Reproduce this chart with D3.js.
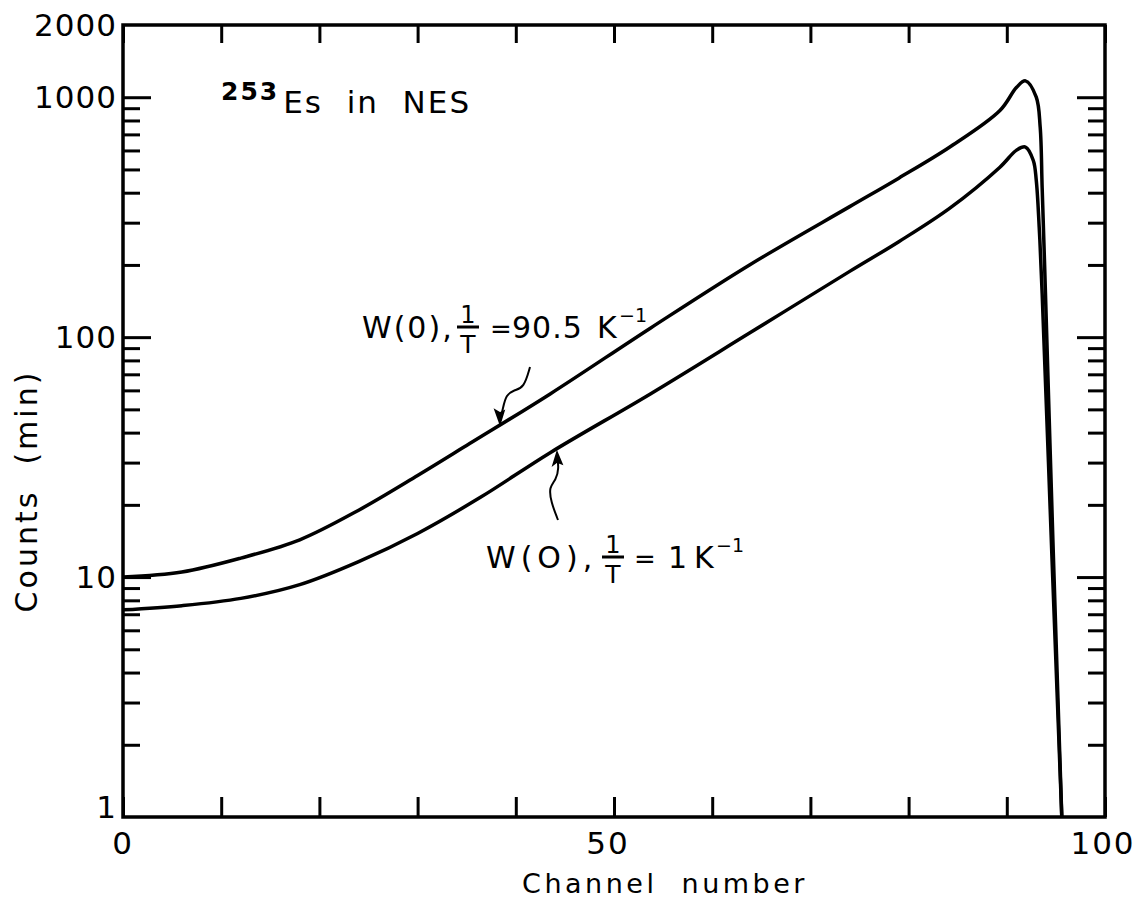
<!doctype html>
<html>

<head>
    <title>253Es in NES - counts vs channel</title>
    <script src="https://d3js.org/d3.v7.min.js"></script>
    <style>
        body {
            margin: 0;
            background: #fff;
        }

        svg text {
            font-family: 'DejaVu Sans', sans-serif;
            fill: #000;
        }
    </style>
</head>

<body>
    <div id="my_dataviz"></div>

    <script>
        // channel numbers and counts
        var upperChannel = [0, 6, 12, 18, 24, 30, 35.3, 43.5, 53.7, 63.8, 74, 79, 84.2, 89.3, 91, 91.9, 93, 93.4, 93.6, 93.85, 94.7, 95.6];
        var upperCounts = [10, 10.5, 12, 14.3, 19, 26.5, 36, 58, 109, 200, 350, 460, 620, 880, 1100, 1170, 1000, 750, 420, 200, 14, 1];

        var lowerChannel = [0, 6, 12, 18, 24, 30, 36.4, 43.5, 53.7, 63.8, 74, 79, 84.2, 89.3, 91, 91.9, 92.7, 93, 93.3, 93.6, 94.6, 95.6];
        var lowerCounts = [7.3, 7.6, 8.15, 9.3, 11.6, 15.2, 21.5, 33, 58, 104, 188, 250, 345, 511, 602, 620, 545, 451, 287, 152, 12, 1];

        // ticks
        var xTicks = [0, 10, 20, 30, 40, 50, 60, 70, 80, 90, 100];
        var xLabels = [0, 50, 100];
        var yMajor = [10, 100, 1000];
        var yMinor = [2, 3, 4, 5, 6, 7, 8, 9, 20, 30, 40, 50, 60, 70, 80, 90, 200, 300, 400, 500, 600, 700, 800, 900];
        var yLabels = [1, 10, 100, 1000, 2000];

        var width = 1143,
            height = 907;

        var svg = d3.select("#my_dataviz")
            .append("svg")
            .attr("width", width)
            .attr("height", height);

        var x = d3.scaleLinear()
            .domain([0, 100])
            .range([123, 1105]);

        var y = d3.scaleLog()
            .domain([1, 2000])
            .range([817, 25]);

        // frame
        svg.append("rect")
            .attr("x", x(0))
            .attr("y", y(2000))
            .attr("width", x(100) - x(0))
            .attr("height", y(1) - y(2000))
            .attr("fill", "none")
            .attr("stroke", "#000")
            .attr("stroke-width", 3.5);

        // x ticks, bottom and top, pointing inward
        function styleTicks(g) {
            g.select(".domain").remove();
            g.selectAll(".tick line").attr("stroke", "#000").attr("stroke-width", 3);
            g.selectAll(".tick text").remove();
        }

        svg.append("g")
            .attr("transform", "translate(0," + y(1) + ")")
            .call(d3.axisBottom(x).tickValues(xTicks).tickSizeInner(-20).tickSizeOuter(0))
            .call(styleTicks);

        svg.append("g")
            .attr("transform", "translate(0," + y(2000) + ")")
            .call(d3.axisTop(x).tickValues(xTicks).tickSizeInner(-18).tickSizeOuter(0))
            .call(styleTicks);

        // y ticks, left and right
        svg.append("g")
            .attr("transform", "translate(" + x(0) + ",0)")
            .call(d3.axisLeft(y).tickValues(yMajor).tickSizeInner(-28).tickSizeOuter(0))
            .call(styleTicks);
        svg.append("g")
            .attr("transform", "translate(" + x(0) + ",0)")
            .call(d3.axisLeft(y).tickValues(yMinor).tickSizeInner(-17).tickSizeOuter(0))
            .call(styleTicks);
        svg.append("g")
            .attr("transform", "translate(" + x(100) + ",0)")
            .call(d3.axisRight(y).tickValues(yMajor).tickSizeInner(-28).tickSizeOuter(0))
            .call(styleTicks);
        svg.append("g")
            .attr("transform", "translate(" + x(100) + ",0)")
            .call(d3.axisRight(y).tickValues(yMinor).tickSizeInner(-17).tickSizeOuter(0))
            .call(styleTicks);

        // tick labels
        svg.selectAll(".xlab")
            .data(xLabels)
            .enter()
            .append("text")
            .attr("x", function (d) { return x(d) - (d == 50 ? 6 : d == 100 ? 2 : 0); })
            .attr("y", y(1) + 37)
            .attr("text-anchor", "middle")
            .style("font-size", "31px")
            .style("letter-spacing", "2px")
            .text(function (d) { return d; });

        svg.selectAll(".ylab")
            .data(yLabels)
            .enter()
            .append("text")
            .attr("x", 117)
            .attr("y", function (d) { return y(d) + (d == 1 ? 1 : 11); })
            .attr("text-anchor", "end")
            .style("font-size", "31px")
            .style("letter-spacing", "1px")
            .text(function (d) { return d; });

        // axis titles
        svg.append("text")
            .attr("x", 665)
            .attr("y", 893)
            .attr("text-anchor", "middle")
            .style("font-size", "27px")
            .style("letter-spacing", "3.5px")
            .style("white-space", "pre")
            .text("Channel  number");

        svg.append("text")
            .attr("transform", "translate(37,491) rotate(-90)")
            .attr("text-anchor", "middle")
            .style("font-size", "30px")
            .style("letter-spacing", "3px")
            .style("white-space", "pre")
            .text("Counts  (min)");

        // curves
        var line = d3.line()
            .x(function (d) { return x(d[0]); })
            .y(function (d) { return y(d[1]); })
            .curve(d3.curveCatmullRom.alpha(0.5));

        var upper = upperChannel.map(function (c, i) { return [c, upperCounts[i]]; });
        var lower = lowerChannel.map(function (c, i) { return [c, lowerCounts[i]]; });

        [upper, lower].forEach(function (pts) {
            svg.append("path")
                .datum(pts)
                .attr("d", line)
                .attr("fill", "none")
                .attr("stroke", "#000")
                .attr("stroke-width", 3.5)
                .attr("stroke-linejoin", "round");
        });

        // title annotation
        var t = svg.append("text")
            .attr("x", 221)
            .attr("y", 113)
            .style("font-size", "31px")
            .style("letter-spacing", "2px")
            .style("white-space", "pre");
        t.append("tspan").attr("dy", -13).style("font-size", "25px").style("font-weight", "bold").text("253");
        t.append("tspan").attr("dx", 4).attr("dy", 13).text("Es  in  NES");

        // labels with fraction: each piece placed on its own
        function piece(px, py, str, size, spacing, anchor) {
            svg.append("text")
                .attr("x", px).attr("y", py)
                .attr("text-anchor", anchor || "start")
                .style("font-size", size + "px")
                .style("letter-spacing", spacing + "px")
                .style("white-space", "pre")
                .text(str);
        }

        function fracLabel(x0, base, pre, preSpacing, fx, eqX, num, numX, kX, supX) {
            piece(x0, base, pre, 30, preSpacing);
            piece(fx, base - 15, "1", 24, 0, "middle");
            svg.append("line")
                .attr("x1", fx - 11).attr("x2", fx + 11)
                .attr("y1", base - 11).attr("y2", base - 11)
                .attr("stroke", "#000").attr("stroke-width", 3);
            piece(fx, base + 15, "T", 25, 0, "middle");
            piece(eqX, base, "=", 26, 0);
            piece(numX, base, num, 30, 1);
            piece(kX, base, "K", 30, 0);
            piece(supX, base - 16, "\u22121", 19, 0);
        }

        fracLabel(362, 338, "W(0),", 2, 468, 490, "90.5", 512, 597, 619);
        fracLabel(486, 568, "W(O),", 5, 613, 634, "1", 668, 694, 716);

        // squiggly arrows
        var arrowLine = d3.line().curve(d3.curveBasis);

        svg.append("path")
            .attr("d", arrowLine([[530, 367], [524, 388], [514, 390], [506, 395], [503, 408], [500, 421]]))
            .attr("fill", "none").attr("stroke", "#000").attr("stroke-width", 2);
        svg.append("path")
            .attr("d", "M500,424 L495,410 L500,413 L504,411 Z")
            .attr("fill", "#000").attr("stroke", "#000").attr("stroke-width", 1.5);

        svg.append("path")
            .attr("d", arrowLine([[558, 520], [551, 502], [549, 487], [556, 480], [559, 468], [557, 456]]))
            .attr("fill", "none").attr("stroke", "#000").attr("stroke-width", 2);
        svg.append("path")
            .attr("d", "M557,452 L553,465 L557,462 L562,464 Z")
            .attr("fill", "#000").attr("stroke", "#000").attr("stroke-width", 1.5);
    </script>

</body>

</html>
